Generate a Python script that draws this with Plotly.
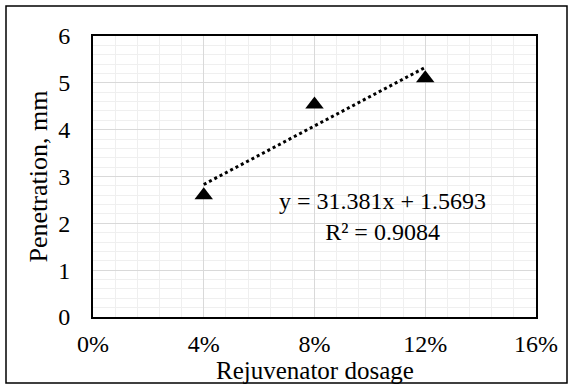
import numpy as np
import plotly.graph_objects as go

dosage = [0.04, 0.08, 0.12]
penetration = [2.60, 4.54, 5.10]
x_ticks = [0, 0.04, 0.08, 0.12, 0.16]
x_tick_labels = ["0%", "4%", "8%", "12%", "16%"]
equation_text = "y = 31.381x + 1.5693<br>R² = 0.9084"
x_title = "Rejuvenator dosage"
y_title = "Penetration, mm"

slope, intercept = np.polyfit(dosage, penetration, 1)
trend_x = [min(dosage), max(dosage)]
trend_y = [slope * v + intercept for v in trend_x]

FONT = "Liberation Serif, Times New Roman, serif"

fig = go.Figure()
fig.add_trace(go.Scatter(
    x=trend_x, y=trend_y, mode="lines",
    line=dict(color="black", width=3, dash="dot"),
    showlegend=False, hoverinfo="skip"))
fig.add_trace(go.Scatter(
    x=dosage, y=penetration, mode="markers",
    marker=dict(symbol="triangle-up", size=16, color="black"),
    showlegend=False))

fig.add_annotation(x=0.1045, y=2.15, xref="x", yref="y", text=equation_text,
                   showarrow=False, align="center",
                   font=dict(family=FONT, size=24, color="black"))

L, R, T, B = 93, 34, 36, 68
W, H = 570, 385
pw, ph = W - L - R, H - T - B

# axis titles placed as annotations (pixel-accurate positions)
fig.add_annotation(x=0.5, y=(H - B - 370) / ph, xref="paper", yref="paper",
                   text=x_title, showarrow=False, xanchor="center", yanchor="middle",
                   font=dict(family=FONT, size=25, color="black"))
fig.add_annotation(x=(38 - L) / pw, y=0.5, xref="paper", yref="paper",
                   text=y_title, showarrow=False, textangle=-90,
                   xanchor="center", yanchor="middle",
                   font=dict(family=FONT, size=26, color="black"))

fig.add_shape(type="rect", xref="paper", yref="paper",
              x0=(6 - L) / pw, x1=(567 - L) / pw,
              y0=((H - B) - 383) / ph, y1=((H - B) - 6) / ph,
              line=dict(color="black", width=1.5), layer="below")

fig.update_layout(
    width=W, height=H,
    margin=dict(l=L, r=R, t=T, b=B, autoexpand=False),
    paper_bgcolor="white", plot_bgcolor="white",
    font=dict(family=FONT, size=24, color="black"),
    xaxis=dict(
        range=[0, 0.16], tickvals=x_ticks, ticktext=x_tick_labels,
        showgrid=True, gridcolor="#d9d9d9", gridwidth=1,
        minor=dict(dtick=0.008, showgrid=True, gridcolor="#efefef", gridwidth=1),
        showline=True, linecolor="black", linewidth=2, mirror=True,
        zeroline=False, ticks="", ticklabelstandoff=4, automargin=False,
        tickfont=dict(size=24)),
    yaxis=dict(
        range=[0, 6], dtick=1,
        showgrid=True, gridcolor="#d9d9d9", gridwidth=1,
        minor=dict(dtick=0.2, showgrid=True, gridcolor="#efefef", gridwidth=1),
        showline=True, linecolor="black", linewidth=2, mirror=True,
        zeroline=False, ticks="", ticklabelstandoff=16, automargin=False,
        tickfont=dict(size=24)),
)

fig.write_html("out.html", config={"displayModeBar": False},
               post_script="document.body.style.margin='0';document.body.style.overflow='hidden';")
